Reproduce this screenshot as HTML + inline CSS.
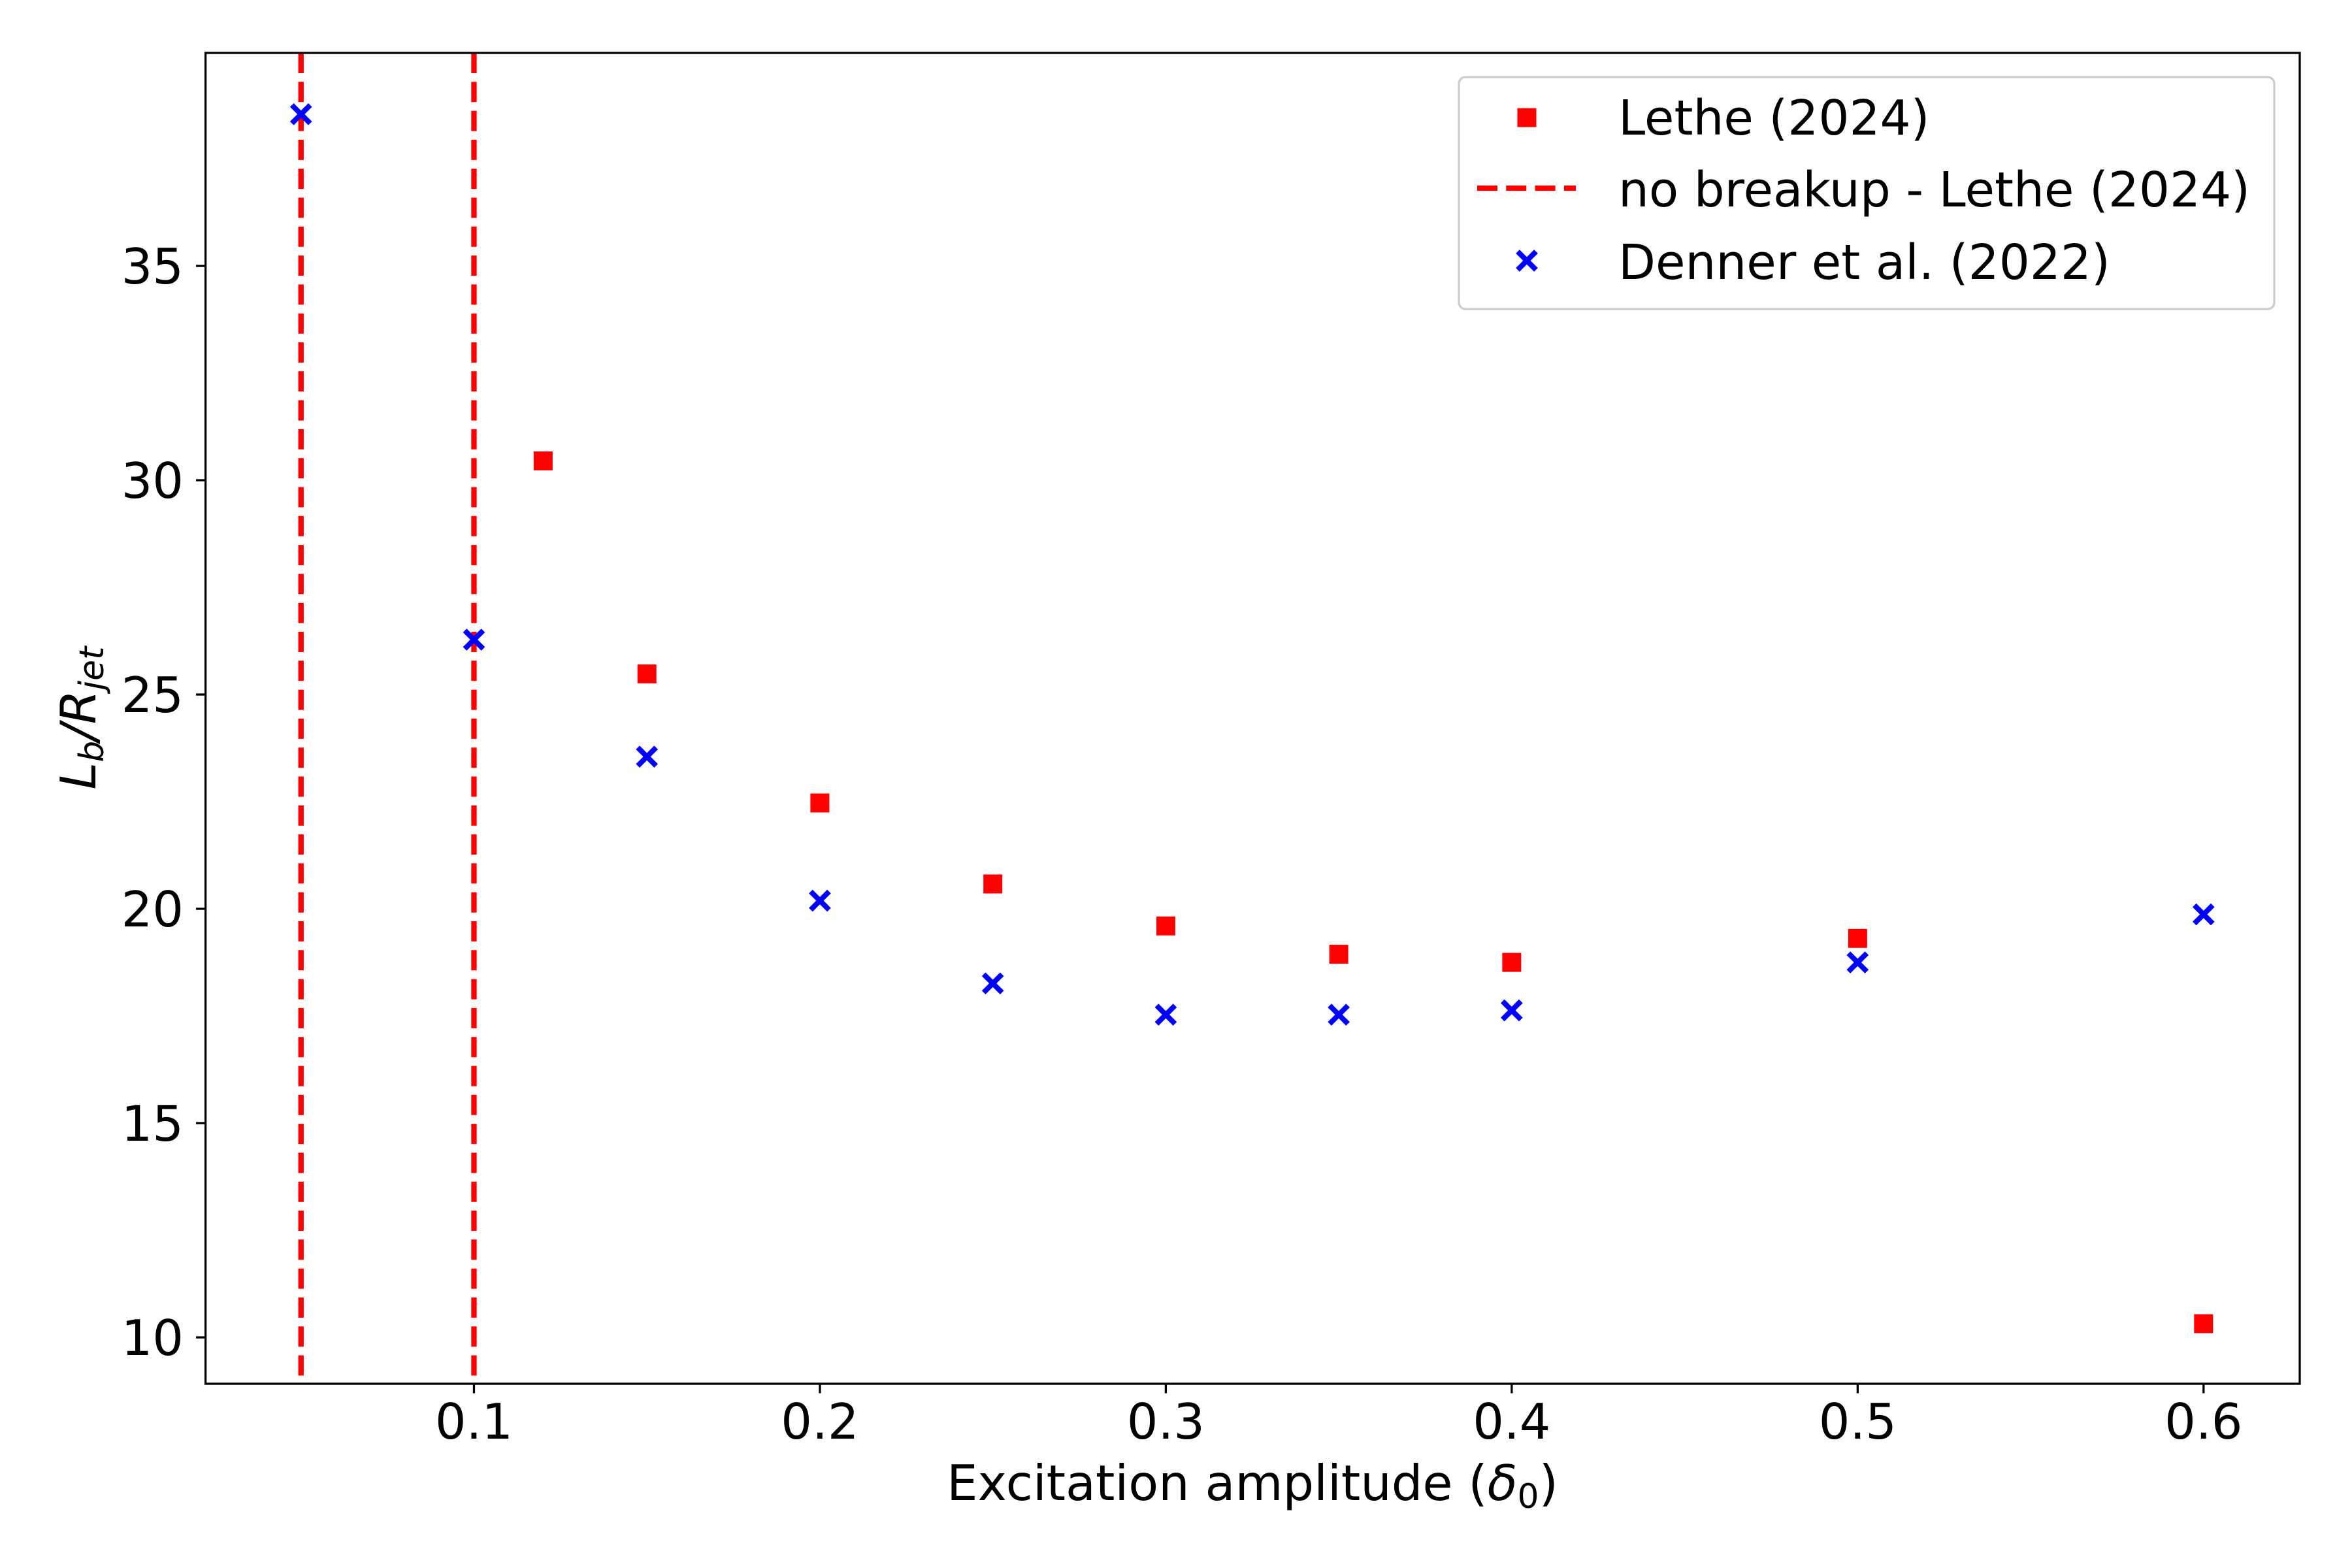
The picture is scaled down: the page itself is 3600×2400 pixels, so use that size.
<!DOCTYPE html>
<html><head><meta charset="utf-8"><style>
html,body{margin:0;padding:0;background:#fff}
svg{display:block}
text{font-family:"DejaVu Sans","Liberation Sans",sans-serif;fill:#000}
</style></head><body>
<svg id="chart" width="3600" height="2400" viewBox="0 0 3600 2400" xmlns="http://www.w3.org/2000/svg">
<rect width="3600" height="2400" fill="#fff"/>
<g id="marks"></g>
<g id="axes"></g>
</svg>
<script>
const xTicks = [0.1, 0.2, 0.3, 0.4, 0.5, 0.6];
const xTickLabels = ["0.1", "0.2", "0.3", "0.4", "0.5", "0.6"];
const yTicks = [10, 15, 20, 25, 30, 35];
const yTickLabels = ["10", "15", "20", "25", "30", "35"];
const letheX = [0.12, 0.15, 0.2, 0.25, 0.3, 0.35, 0.4, 0.5, 0.6];
const letheY = [30.45, 25.48, 22.47, 20.58, 19.6, 18.94, 18.75, 19.31, 10.32];
const dennerX = [0.05, 0.1, 0.15, 0.2, 0.25, 0.3, 0.35, 0.4, 0.5, 0.6];
const dennerY = [38.54, 26.28, 23.55, 20.19, 18.26, 17.53, 17.53, 17.63, 18.75, 19.87];
const noBreakupX = [0.05, 0.1];

const L = 314.6, R = 3520, T = 81, B = 2118;
const xMin = 0.0224, xMax = 0.6278, yMin = 8.918, yMax = 39.97;
function sx(v){ return L + (v - xMin) / (xMax - xMin) * (R - L); }
function sy(v){ return B - (v - yMin) / (yMax - yMin) * (B - T); }
const NS = "http://www.w3.org/2000/svg";
function mk(tag, attrs, parent){
  const e = document.createElementNS(NS, tag);
  for (const k in attrs) e.setAttribute(k, attrs[k]);
  parent.appendChild(e);
  return e;
}
const marks = document.getElementById('marks');
const axes = document.getElementById('axes');

noBreakupX.forEach(function(v){
  const ln = mk('line', {x1: sx(v), x2: sx(v), y1: T, y2: B, stroke: '#ff0000', 'stroke-width': 8.3, 'stroke-dasharray': '31 13.3'}, marks);
  
  
});
letheX.forEach(function(v, i){
  const s = 29;
  const r = mk('rect', {x: sx(v) - s/2, y: sy(letheY[i]) - s/2, width: s, height: s, fill: '#ff0000'}, marks);
  
  
});
dennerX.forEach(function(v, i){
  const cx = sx(v), cy = sy(dennerY[i]), h = 14;
  const p = mk('path', {d: 'M'+(cx-h)+','+(cy-h)+'L'+(cx+h)+','+(cy+h)+'M'+(cx-h)+','+(cy+h)+'L'+(cx+h)+','+(cy-h), stroke: '#0000ff', 'stroke-width': 8, fill: 'none'}, marks);
  
  
});

const fr = mk('rect', {x: L, y: T, width: R - L, height: B - T, fill: 'none', stroke: '#000', 'stroke-width': 3.3}, axes);



xTicks.forEach(function(v, i){
  const x = sx(v);
  const t = mk('line', {x1: x, x2: x, y1: B, y2: B + 14.5, stroke: '#000', 'stroke-width': 3.3}, axes);
  
  
  const lb = mk('text', {x: x, y: 2202, 'font-size': 75, 'text-anchor': 'middle'}, axes);
  lb.textContent = xTickLabels[i];
  
  
});
yTicks.forEach(function(v, i){
  const y = sy(v);
  const t = mk('line', {x1: L - 14.5, x2: L, y1: y, y2: y, stroke: '#000', 'stroke-width': 3.3}, axes);
  
  
  const lb = mk('text', {x: 281, y: y + 27, 'font-size': 75, 'text-anchor': 'end'}, axes);
  lb.textContent = yTickLabels[i];
  
  
});
</script>
<svg style="position:absolute;left:0;top:0" width="3600" height="2400">
<text x="1917" y="2296" font-size="75" text-anchor="middle">Excitation amplitude (<tspan font-style="italic">δ</tspan><tspan font-size="52" dy="12">0</tspan><tspan dy="-12">)</tspan></text>
<text transform="translate(146,1099) rotate(-90)" font-size="75" text-anchor="middle" font-style="italic">L<tspan font-size="52" dy="12">b</tspan><tspan dy="-12">/R</tspan><tspan font-size="52" dy="12">jet</tspan></text>
<g>
<rect x="2233" y="118" width="1248" height="355" rx="10" fill="#fff" fill-opacity="0.8" stroke="#cccccc" stroke-width="3.3"/>
<rect x="2322.5" y="165.5" width="29" height="29" fill="#ff0000"/>
<text x="2477" y="206" font-size="74">Lethe (2024)</text>
<line x1="2261" x2="2412" y1="288" y2="288" stroke="#ff0000" stroke-width="8.3" stroke-dasharray="31 13.3"/>
<text x="2477" y="316" font-size="74">no breakup - Lethe (2024)</text>
<path d="M2323,385L2351,413M2323,413L2351,385" stroke="#0000ff" stroke-width="8"/>
<text x="2477" y="427" font-size="74">Denner et al. (2022)</text>
</g>
</svg>
</body></html>
